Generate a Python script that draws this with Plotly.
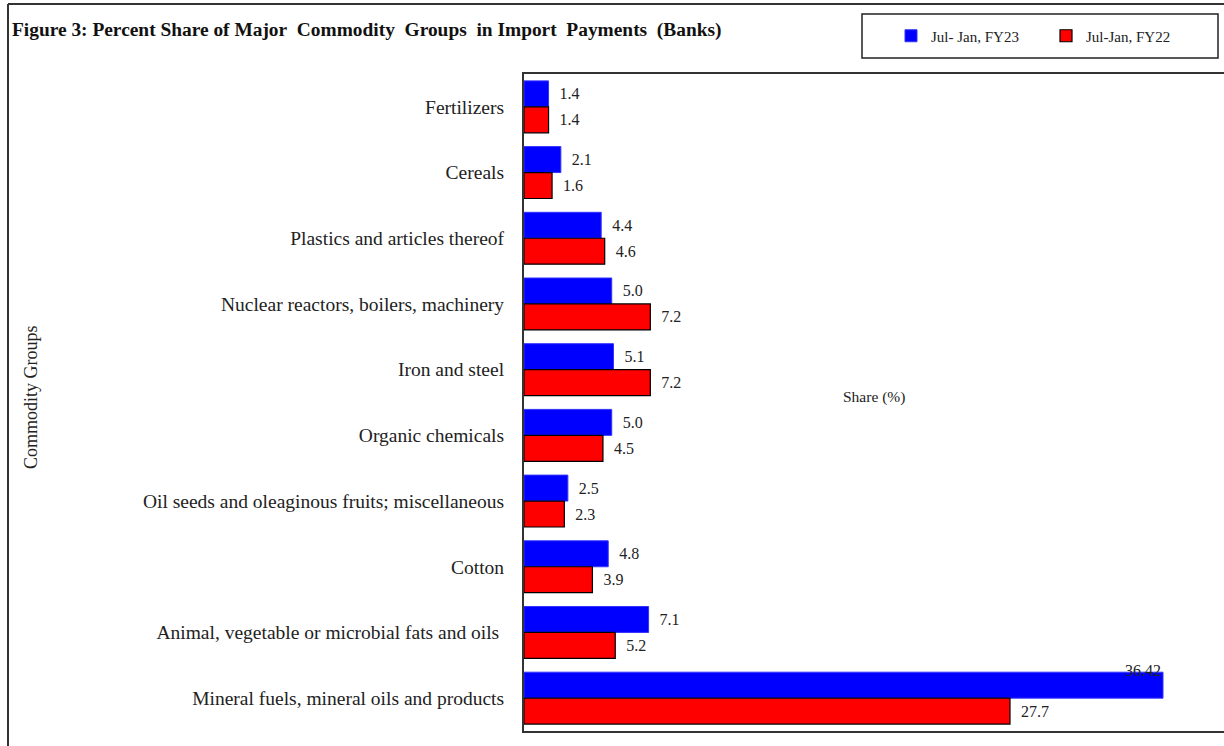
import plotly.graph_objects as go

categories = [
    "Fertilizers",
    "Cereals",
    "Plastics and articles thereof",
    "Nuclear reactors, boilers, machinery",
    "Iron and steel",
    "Organic chemicals",
    "Oil seeds and oleaginous fruits; miscellaneous",
    "Cotton",
    "Animal, vegetable or microbial fats and oils\u00a0",
    "Mineral fuels, mineral oils and products",
]
fy23 = [1.4, 2.1, 4.4, 5.0, 5.1, 5.0, 2.5, 4.8, 7.1, 36.42]
fy22 = [1.4, 1.6, 4.6, 7.2, 7.2, 4.5, 2.3, 3.9, 5.2, 27.7]
series_names = ["Jul- Jan, FY23", "Jul-Jan, FY22"]

W, H = 1224, 746
L, R, T, B = 524, 1224, 74, 731
pw, ph = R - L, B - T
px_per_unit = (1163 - 524) / 36.42
xmax = pw / px_per_unit

def px(x):
    return (x - L) / pw

def py(y):
    return (B - y) / ph

FONT = "Liberation Serif, Times New Roman, serif"

pad = "\u00a0\u00a0"
fy23_text = [pad + f"{v:.1f}" for v in fy23]
fy23_text[-1] = ""
fy22_text = [pad + f"{v:.1f}" for v in fy22]

fig = go.Figure()
fig.add_trace(go.Bar(
    y=categories, x=fy23, orientation="h", name=series_names[0],
    marker=dict(color="#0000FF", line=dict(color="#3333FF", width=1)),
    text=fy23_text, textposition="outside", cliponaxis=False,
    textfont=dict(family=FONT, size=16, color="#222"),
))
fig.add_trace(go.Bar(
    y=categories, x=fy22, orientation="h", name=series_names[1],
    marker=dict(color="#FF0000", line=dict(color="#000000", width=1.2)),
    text=fy22_text, textposition="outside", cliponaxis=False,
    textfont=dict(family=FONT, size=16, color="#222"),
))

fig.add_annotation(
    x=fy23[-1], y=categories[-1], text=f"{fy23[-1]:.2f}", showarrow=False,
    xanchor="right", yanchor="middle", yshift=28, xshift=0,
    font=dict(family=FONT, size=16, color="#222"),
)

shapes = [
    # outer frame
    dict(type="line", xref="paper", yref="paper", x0=px(8), x1=px(8), y0=py(4), y1=py(746),
         line=dict(color="#333", width=2)),
    dict(type="line", xref="paper", yref="paper", x0=px(8), x1=px(1224), y0=py(4), y1=py(4),
         line=dict(color="#333", width=2)),
    # legend box
    dict(type="rect", xref="paper", yref="paper", x0=px(862), x1=px(1218), y0=py(14), y1=py(58),
         line=dict(color="#222", width=1.5), fillcolor="rgba(0,0,0,0)"),
]

fig.update_layout(
    width=W, height=H,
    margin=dict(l=L, r=W - R, t=T, b=H - B, pad=0),
    paper_bgcolor="white", plot_bgcolor="white",
    barmode="group", bargap=0.21, bargroupgap=0,
    showlegend=True,
    legend=dict(orientation="h", x=px(891), y=py(36), xanchor="left", yanchor="middle",
                font=dict(family=FONT, size=15, color="#222"),
                bgcolor="rgba(0,0,0,0)", borderwidth=0,
                entrywidth=110, itemwidth=30, traceorder="normal"),
    shapes=shapes,
    font=dict(family=FONT, color="#222"),
    xaxis=dict(range=[0, xmax], showticklabels=False, ticks="", showgrid=False, zeroline=False,
               showline=True, mirror=True, linecolor="#333", linewidth=2, fixedrange=True),
    yaxis=dict(range=[len(categories) - 0.5, -0.5], showgrid=False, ticks="", showline=True,
               linecolor="#333", linewidth=2, tickfont=dict(family=FONT, size=19.5, color="#222"),
               ticklabelstandoff=14, fixedrange=True),
)

fig.add_annotation(
    xref="paper", yref="paper", x=px(10), y=py(30), xanchor="left", yanchor="middle",
    text="<b>Figure 3: Percent Share of Major\u00a0 Commodity\u00a0 Groups\u00a0 in Import\u00a0 Payments\u00a0 (Banks)</b>",
    showarrow=False, font=dict(family=FONT, size=19.4, color="#111"),
)
fig.add_annotation(
    xref="paper", yref="paper", x=px(874), y=py(397), xanchor="center", yanchor="middle",
    text="Share (%)", showarrow=False, font=dict(family=FONT, size=15.5, color="#222"),
)
fig.add_annotation(
    xref="paper", yref="paper", x=px(31), y=py(397), xanchor="center", yanchor="middle",
    text="Commodity Groups", textangle=-90, showarrow=False,
    font=dict(family=FONT, size=18, color="#222"),
)

fig.write_html("out.html", config={"displayModeBar": False},
               post_script="document.body.style.margin='0';")
